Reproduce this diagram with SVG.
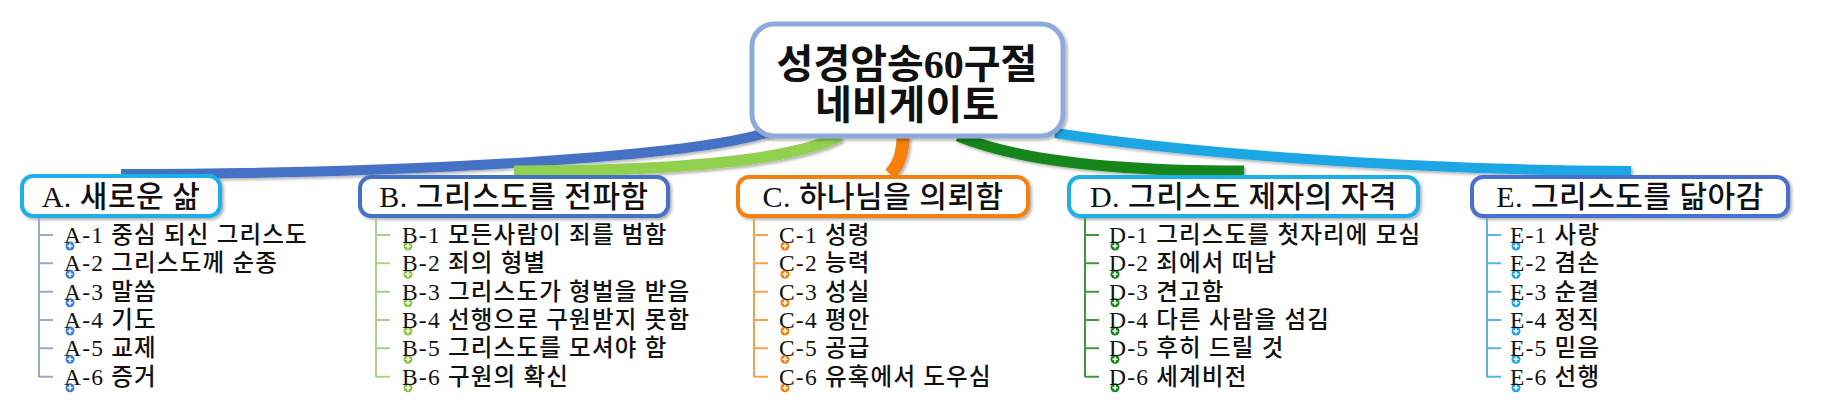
<svg xmlns="http://www.w3.org/2000/svg" xmlns:xlink="http://www.w3.org/1999/xlink" width="1821" height="409" viewBox="0 0 1821 409">
<style>
.hdr{fill:#fff;stroke-width:4}
.ht{font-family:"Liberation Serif","Noto Sans CJK KR",serif;font-size:30px;font-weight:500;fill:#111;text-anchor:middle;letter-spacing:0.5px}
.it{font-family:"Liberation Serif","Noto Sans CJK KR",serif;font-size:23.5px;font-weight:500;fill:#111;letter-spacing:1.2px}
.ct{font-family:"Liberation Serif","Noto Sans CJK KR",serif;font-size:40px;font-weight:bold;fill:#111;text-anchor:middle}
.con{fill:none;stroke-linecap:butt}
.tree{fill:none;stroke-width:2}
</style>
<defs>
<filter id="sh" x="-10%" y="-20%" width="120%" height="150%">
<feDropShadow dx="2" dy="2" stdDeviation="1.5" flood-color="#000" flood-opacity="0.3"/>
</filter>
<g id="plus"><circle r="4.5"/><path d="M-2.6 0H2.6M0 -2.6V2.6" stroke="#fff" stroke-width="1.6"/></g>
</defs>
<rect width="1821" height="409" fill="#fff"/>

<g id="connectors" filter="url(#sh)">
<path class="con" d="M772 131 C700 156 420 174 121 174" stroke="#4472c4" stroke-width="10"/>
<path class="con" d="M840 136 C790 162 660 171 514 171" stroke="#92d050" stroke-width="11"/>
<path class="con" d="M903 136 C903 155 898 166 890 174" stroke="#f5800a" stroke-width="13"/>
<path class="con" d="M958 136 C1015 160 1110 171 1244 171" stroke="#13861a" stroke-width="11"/>
<path class="con" d="M1055 133 C1180 152 1400 170 1631 171" stroke="#1aa6e4" stroke-width="10"/>
</g>

<g id="center">
<rect x="752" y="24" width="311" height="112" rx="22" fill="#fff" stroke="#8eaadb" stroke-width="5" filter="url(#sh)"/>
<text class="ct" x="907" y="78">성경암송60구절</text>
<text class="ct" x="907" y="119">네비게이토</text>
</g>

<g id="branchA">
<rect class="hdr" x="22" y="176" width="198" height="40" rx="11" stroke="#1ab0e6" filter="url(#sh)"/>
<text class="ht" x="121" y="207">A. 새로운 삶</text>
<path class="tree" stroke="#9aa9c9" d="M39 218V377M39 235H53M39 263.3H53M39 291.7H53M39 320H53M39 348.3H53M39 376.7H53"/>
<g fill="#3a7bd5">
<use xlink:href="#plus" x="70" y="246"/><use xlink:href="#plus" x="70" y="274.3"/><use xlink:href="#plus" x="70" y="302.7"/><use xlink:href="#plus" x="70" y="331"/><use xlink:href="#plus" x="70" y="359.3"/><use xlink:href="#plus" x="70" y="387.7"/>
</g>
<text class="it" x="64" y="243">A-1 중심 되신 그리스도</text>
<text class="it" x="64" y="271.3">A-2 그리스도께 순종</text>
<text class="it" x="64" y="299.7">A-3 말씀</text>
<text class="it" x="64" y="328">A-4 기도</text>
<text class="it" x="64" y="356.3">A-5 교제</text>
<text class="it" x="64" y="384.7">A-6 증거</text>
</g>

<g id="branchB">
<rect class="hdr" x="360" y="177" width="308" height="39" rx="11" stroke="#4472c4" filter="url(#sh)"/>
<text class="ht" x="514" y="207">B. 그리스도를 전파함</text>
<path class="tree" stroke="#a9d18e" d="M376 218V377M376 235H390M376 263.3H390M376 291.7H390M376 320H390M376 348.3H390M376 376.7H390"/>
<g fill="#8cc63f">
<use xlink:href="#plus" x="408" y="246"/><use xlink:href="#plus" x="408" y="274.3"/><use xlink:href="#plus" x="408" y="302.7"/><use xlink:href="#plus" x="408" y="331"/><use xlink:href="#plus" x="408" y="359.3"/><use xlink:href="#plus" x="408" y="387.7"/>
</g>
<text class="it" x="402" y="243">B-1 모든사람이 죄를 범함</text>
<text class="it" x="402" y="271.3">B-2 죄의 형별</text>
<text class="it" x="402" y="299.7">B-3 그리스도가 형벌을 받음</text>
<text class="it" x="402" y="328">B-4 선행으로 구원받지 못함</text>
<text class="it" x="402" y="356.3">B-5 그리스도를 모셔야 함</text>
<text class="it" x="402" y="384.7">B-6 구원의 확신</text>
</g>

<g id="branchC">
<rect class="hdr" x="738" y="177" width="290" height="39" rx="11" stroke="#f5800a" filter="url(#sh)"/>
<text class="ht" x="883" y="207">C. 하나님을 의뢰함</text>
<path class="tree" stroke="#f7a050" d="M754 218V377M754 235H768M754 263.3H768M754 291.7H768M754 320H768M754 348.3H768M754 376.7H768"/>
<g fill="#f5800a">
<use xlink:href="#plus" x="785" y="246"/><use xlink:href="#plus" x="785" y="274.3"/><use xlink:href="#plus" x="785" y="302.7"/><use xlink:href="#plus" x="785" y="331"/><use xlink:href="#plus" x="785" y="359.3"/><use xlink:href="#plus" x="785" y="387.7"/>
</g>
<text class="it" x="779" y="243">C-1 성령</text>
<text class="it" x="779" y="271.3">C-2 능력</text>
<text class="it" x="779" y="299.7">C-3 성실</text>
<text class="it" x="779" y="328">C-4 평안</text>
<text class="it" x="779" y="356.3">C-5 공급</text>
<text class="it" x="779" y="384.7">C-6 유혹에서 도우심</text>
</g>

<g id="branchD">
<rect class="hdr" x="1069" y="177" width="349" height="39" rx="11" stroke="#1ab0e6" filter="url(#sh)"/>
<text class="ht" x="1243.5" y="207">D. 그리스도 제자의 자격</text>
<path class="tree" stroke="#3c9a3c" d="M1085 218V377M1085 235H1099M1085 263.3H1099M1085 291.7H1099M1085 320H1099M1085 348.3H1099M1085 376.7H1099"/>
<g fill="#13861a">
<use xlink:href="#plus" x="1115" y="246"/><use xlink:href="#plus" x="1115" y="274.3"/><use xlink:href="#plus" x="1115" y="302.7"/><use xlink:href="#plus" x="1115" y="331"/><use xlink:href="#plus" x="1115" y="359.3"/><use xlink:href="#plus" x="1115" y="387.7"/>
</g>
<text class="it" x="1109" y="243">D-1 그리스도를 첫자리에 모심</text>
<text class="it" x="1109" y="271.3">D-2 죄에서 떠남</text>
<text class="it" x="1109" y="299.7">D-3 견고함</text>
<text class="it" x="1109" y="328">D-4 다른 사람을 섬김</text>
<text class="it" x="1109" y="356.3">D-5 후히 드릴 것</text>
<text class="it" x="1109" y="384.7">D-6 세계비전</text>
</g>

<g id="branchE">
<rect class="hdr" x="1472" y="177" width="316" height="39" rx="11" stroke="#4a6fd0" filter="url(#sh)"/>
<text class="ht" x="1630" y="207">E. 그리스도를 닮아감</text>
<path class="tree" stroke="#5ab4e2" d="M1487 218V377M1487 235H1501M1487 263.3H1501M1487 291.7H1501M1487 320H1501M1487 348.3H1501M1487 376.7H1501"/>
<g fill="#1aa6e4">
<use xlink:href="#plus" x="1516" y="246"/><use xlink:href="#plus" x="1516" y="274.3"/><use xlink:href="#plus" x="1516" y="302.7"/><use xlink:href="#plus" x="1516" y="331"/><use xlink:href="#plus" x="1516" y="359.3"/><use xlink:href="#plus" x="1516" y="387.7"/>
</g>
<text class="it" x="1510" y="243">E-1 사랑</text>
<text class="it" x="1510" y="271.3">E-2 겸손</text>
<text class="it" x="1510" y="299.7">E-3 순결</text>
<text class="it" x="1510" y="328">E-4 정직</text>
<text class="it" x="1510" y="356.3">E-5 믿음</text>
<text class="it" x="1510" y="384.7">E-6 선행</text>
</g>
</svg>
